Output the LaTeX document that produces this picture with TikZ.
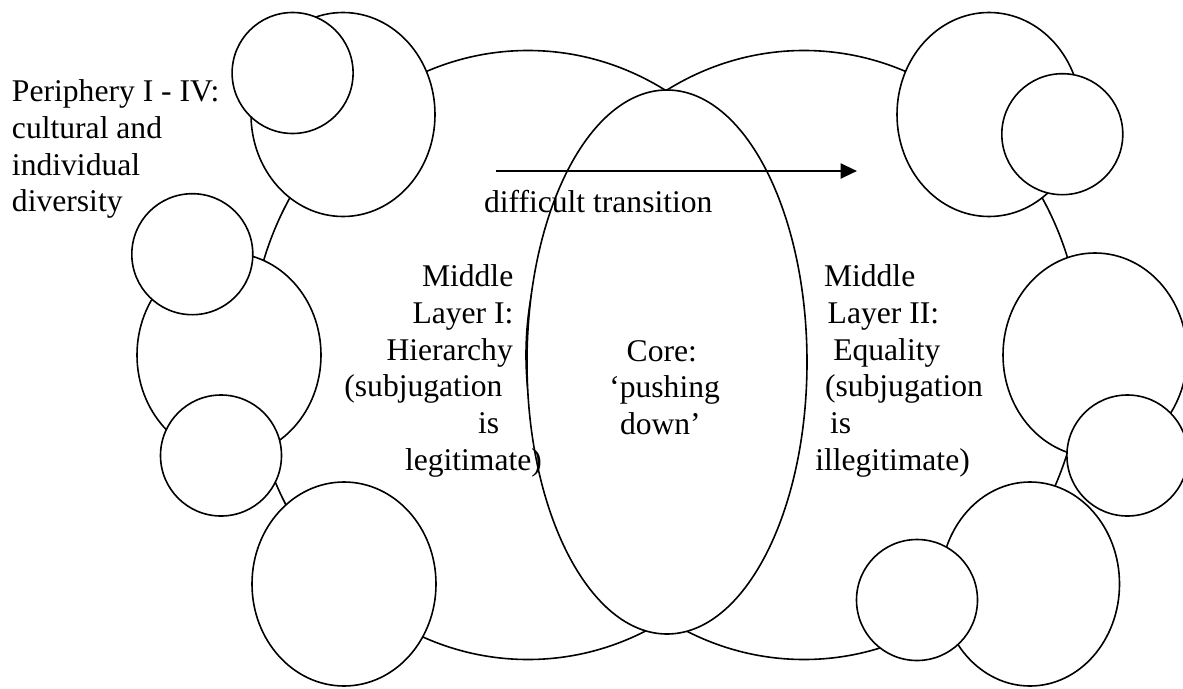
\documentclass[tikz,border=0pt]{standalone}
\usepackage{fontspec}
\setmainfont{Liberation Serif}[Ligatures=NoCommon]
\usetikzlibrary{arrows.meta,shapes.geometric}
\begin{document}
\begin{tikzpicture}[x=1pt,y=-1pt,
  blob/.style={ellipse, draw=black, fill=white, line width=1.6pt, inner sep=0pt, outer sep=0pt},
  bigring/.style={blob, minimum width=184pt, minimum height=204pt},
  smallring/.style={blob, minimum width=121pt, minimum height=121pt},
  layer/.style={blob, minimum width=556pt, minimum height=609pt},
  lbl/.style={inner sep=0pt, outer sep=0pt, anchor=base west, font=\fontsize{31.6pt}{36.67pt}\selectfont},
  flow/.style={line width=2.5pt, -{Triangle[length=16.5pt,width=15pt]}}]
\clip (0,0) rectangle (1183,688);
% middle layers and core
\node[layer] (midI) at (528,355) {};
\node[layer] (midII) at (804,355) {};
\node[blob, minimum width=280pt, minimum height=544pt] (core) at (667,362) {};
% periphery, large rings
\node[bigring] (p1b) at (343,114.5) {};
\node[bigring] (p2b) at (229,355) {};
\node[bigring] (p4) at (344,584) {};
\node[bigring] (p5a) at (989,114.5) {};
\node[bigring] (p6) at (1095,355) {};
\node[bigring, minimum width=179pt] (p8) at (1030,584) {};
% periphery, small rings
\node[smallring] (p1a) at (292.6,73) {};
\node[smallring] (p2a) at (192.3,254.2) {};
\node[smallring] (p3a) at (221,455.5) {};
\node[smallring] (p5b) at (1062.3,134.2) {};
\node[smallring] (p7a) at (1127.4,455.5) {};
\node[smallring] (p9) at (917,600) {};
% transition arrow
\coordinate (a0) at (496,171);
\coordinate (a1) at (857,171);
\draw[flow] (a0) -- (a1);
% texts
\node[lbl] (peri) at (12,101.7) {\parbox[t]{300pt}{\raggedright Periphery I - IV:\\cultural and\\individual\\diversity}};
\node[lbl] (trans) at (484,212.7) {difficult transition};
\node[lbl] (txtI) at (344.4,286.7) {\parbox[t]{300pt}{\raggedright\hspace*{77.6pt}Middle\\\hspace*{68.1pt}Layer I:\\\hspace*{42.1pt}Hierarchy\\(subjugation\\\hspace*{133.6pt}is\\\hspace*{60.6pt}legitimate)}};
\node[lbl] (txtCore) at (609.3,361) {\parbox[t]{200pt}{\raggedright\hspace*{17.4pt}Core:\\‘pushing\\\hspace*{10.7pt}down’}};
\node[lbl] (txtII) at (815.3,286.7) {\parbox[t]{300pt}{\raggedright\hspace*{8.7pt}Middle\\\hspace*{12.4pt}Layer II:\\\hspace*{18pt}Equality\\\hspace*{9.7pt}(subjugation\\\hspace*{14.7pt}is\\illegitimate)}};
\end{tikzpicture}
\end{document}
